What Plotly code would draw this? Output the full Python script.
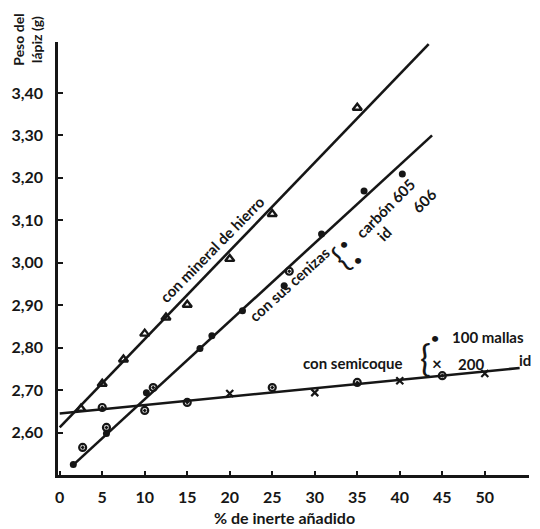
import plotly.graph_objects as go

# --- fitted lines (end points of each regression line) ---
hierro_fit_x = [0.0, 43.4]
hierro_fit_y = [2.612, 3.515]
ceniza_fit_x = [1.5, 43.8]
ceniza_fit_y = [2.522, 3.300]
semicoque_fit_x = [0.0, 54.1]
semicoque_fit_y = [2.645, 2.752]

# --- measured points ---
hierro_x = [2.5, 5, 7.5, 10, 12.5, 15, 20, 25, 35]
hierro_y = [2.656, 2.715, 2.772, 2.833, 2.871, 2.901, 3.009, 3.115, 3.365]

carbon605_x = [1.6, 5.5, 10.2, 16.5, 17.9, 21.5, 26.4, 30.8, 35.8, 40.3]
carbon605_y = [2.525, 2.598, 2.694, 2.798, 2.828, 2.887, 2.946, 3.068, 3.169, 3.209]
carbon606_x = [2.7, 5.5, 11.0, 27.0]
carbon606_y = [2.565, 2.612, 2.706, 2.980]

malla100_x = [5, 10, 15, 25, 35, 45]
malla100_y = [2.659, 2.652, 2.671, 2.706, 2.718, 2.734]
malla200_x = [20, 30, 40, 50]
malla200_y = [2.692, 2.694, 2.722, 2.739]

# --- axis ticks ---
x_ticks = [0, 5, 10, 15, 20, 25, 30, 35, 40, 45, 50]
y_ticks = [2.60, 2.70, 2.80, 2.90, 3.00, 3.10, 3.20, 3.30, 3.40]
y_tick_labels = ["2,60", "2,70", "2,80", "2,90", "3,00", "3,10", "3,20", "3,30", "3,40"]

INK = "#161616"
FONT = "Lato"

fig = go.Figure()

for fx, fy in [(hierro_fit_x, hierro_fit_y), (ceniza_fit_x, ceniza_fit_y),
               (semicoque_fit_x, semicoque_fit_y)]:
    fig.add_trace(go.Scatter(x=fx, y=fy, mode="lines",
                             line=dict(color=INK, width=2.6), hoverinfo="skip"))

fig.add_trace(go.Scatter(x=hierro_x, y=hierro_y, mode="markers",
                         marker=dict(symbol="triangle-up-open", size=8, color=INK,
                                     line=dict(width=2.4, color=INK))))
fig.add_trace(go.Scatter(x=carbon605_x, y=carbon605_y, mode="markers",
                         marker=dict(symbol="circle", size=7, color=INK)))
fig.add_trace(go.Scatter(x=carbon606_x, y=carbon606_y, mode="markers",
                         marker=dict(symbol="circle-open-dot", size=7, color=INK,
                                     line=dict(width=2.2, color=INK))))
fig.add_trace(go.Scatter(x=malla100_x, y=malla100_y, mode="markers",
                         marker=dict(symbol="circle-open-dot", size=7, color=INK,
                                     line=dict(width=2.2, color=INK))))
fig.add_trace(go.Scatter(x=malla200_x, y=malla200_y, mode="markers",
                         marker=dict(symbol="x-thin", size=7, color=INK,
                                     line=dict(width=2.2, color=INK))))

def note(text, x, y, size=14, angle=0, xanchor="center", ref="data", weight="bold"):
    fig.add_annotation(text=text, x=x, y=y, xref="x" if ref == "data" else "paper",
                       yref="y" if ref == "data" else "paper",
                       showarrow=False, textangle=angle, xanchor=xanchor,
                       yanchor="middle",
                       font=dict(family=FONT, size=size, color=INK, weight=weight))

# in-plot labels
note("con mineral de hierro", 17.9, 3.033, size=15, angle=-45.5)
note("con sus cenizas", 27.0, 2.951, size=15, angle=-42)
note("{", 33.0, 3.012, size=32, angle=-42, weight="normal")
note("•", 33.4, 3.045, size=14)
note("•", 35.1, 3.007, size=14)
note("carbón 605", 38.3, 3.130, size=15, angle=-45)
note("id", 38.1, 3.068, size=15, angle=-45)
note("606", 42.8, 3.146, size=15, angle=-45)

note("con semicoque", 34.5, 2.765, size=15)
note("{", 43.0, 2.776, size=36, weight="normal")
note("•", 44.2, 2.824, size=14)
note("100 mallas", 45.9, 2.826, size=15, xanchor="left")
note("×", 44.4, 2.762, size=17)
note("200", 48.4, 2.762, size=15)
note("id", 54.7, 2.772, size=15)

# axis titles
note("% de inerte añadido", 0.48, -0.098, size=16, ref="paper")
note("Peso del<br>lápiz (g)", -0.064, 1.005, size=14, angle=-90, ref="paper")

tick_font = dict(family=FONT, size=16, color=INK, weight="bold")

fig.update_layout(
    width=540, height=529,
    margin=dict(l=53, r=11, t=42, b=54),
    paper_bgcolor="white", plot_bgcolor="white",
    showlegend=False,
    font=dict(family=FONT, size=14, color=INK),
)
fig.update_xaxes(range=[-0.2, 55.2], tickvals=x_ticks, ticks="inside", ticklen=4,
                 tickwidth=1.5, tickcolor=INK, showline=True, linewidth=2.5,
                 linecolor=INK, showgrid=False, zeroline=False,
                 tickfont=tick_font, ticklabelstandoff=6)
fig.update_yaxes(range=[2.50, 3.52], tickvals=y_ticks, ticktext=y_tick_labels,
                 ticks="inside", ticklen=5, tickwidth=1.5, tickcolor=INK,
                 showline=True, linewidth=2.5, linecolor=INK, showgrid=False,
                 zeroline=False, tickfont=tick_font, ticklabelstandoff=9)

fig.write_html("out.html")
